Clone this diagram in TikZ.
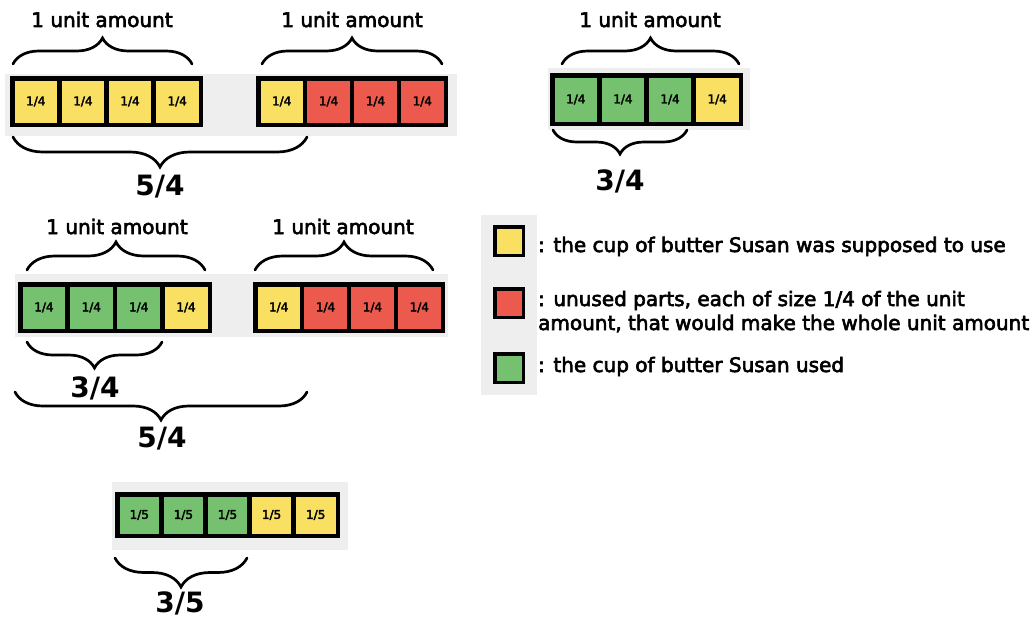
\documentclass[tikz,border=0pt]{standalone}
\usepackage{fontspec}
\setmainfont{DejaVu Sans}[UprightFeatures={FakeBold=3}]
\usetikzlibrary{decorations.pathreplacing}

\definecolor{butter}{HTML}{F9E062}
\definecolor{unused}{HTML}{EC5A4E}
\definecolor{used}{HTML}{75C16F}
\definecolor{bandgray}{HTML}{EEEEEE}

\tikzset{
  cell/.style={draw=black, line width=4.5pt, inner sep=0pt, outer sep=0pt,
               font=\fontsize{12}{12}\selectfont},
  bandbox/.style={fill=bandgray, draw=none},
  curly/.style={decorate, decoration={brace, amplitude=#1},
                line width=2.7pt, line cap=round},
  curlydown/.style={decorate, decoration={brace, mirror, amplitude=#1},
                line width=2.7pt, line cap=round},
  unitlabel/.style={font=\fontsize{20}{20}\selectfont, anchor=base, inner sep=0pt},
  fraclabel/.style={font=\bfseries\fontsize{28}{28}\selectfont, anchor=base, inner sep=0pt},
  keybox/.style={draw=black, line width=3.5pt, minimum size=28.5pt, inner sep=0pt},
  keytext/.style={font=\fontsize{20}{24}\selectfont, anchor=base west,
                  align=left, inner sep=0pt},
}

% \fracbar{name}{left}{right}{top}{bottom}{parts}{label}{colours}
\newcommand\fracbar[8]{%
  \pgfmathsetmacro\cw{(#3-#2-4.5)/#6}%
  \pgfmathsetmacro\ch{#5-#4-4.5}%
  \foreach \col [count=\i] in {#8} {
    \node[cell, fill=\col, minimum width=\cw pt, minimum height=\ch pt]
      (#1\i) at ({#2+2.25+(\i-0.5)*\cw}, {(#4+#5)/2}) {#7};
  }%
}

\begin{document}
\begin{tikzpicture}[x=1pt, y=-1pt]
\useasboundingbox (0,0) rectangle (1033,621);

% grey bands behind the bars and the key
\fill[bandgray] (5,74) rectangle (457,136);
\fill[bandgray] (548,68) rectangle (750,130);
\fill[bandgray] (15,274) rectangle (448,337);
\fill[bandgray] (112,482) rectangle (348,550);
\fill[bandgray] (481,215) rectangle (537,395);

% first row: 5/4 as two unit amounts
\fracbar{a}{10}{203}{76}{127}{4}{1/4}{butter,butter,butter,butter}
\fracbar{b}{256}{448}{76}{127}{4}{1/4}{butter,unused,unused,unused}

\coordinate (a-top-l) at (13,64);   \coordinate (a-top-r) at (192,64);
\coordinate (b-top-l) at (262,64);  \coordinate (b-top-r) at (442,64);
\coordinate (ab-bot-l) at (13,137); \coordinate (ab-bot-r) at (307,137);
\draw[curly=26] (a-top-l) -- (a-top-r);
\draw[curly=26] (b-top-l) -- (b-top-r);
\draw[curlydown=30] (ab-bot-l) -- (ab-bot-r);
\node[unitlabel] (a-unit) at (102,27) {1 unit amount};
\node[unitlabel] (b-unit) at (352,27) {1 unit amount};
\node[fraclabel] (ab-frac) at (160,195) {5/4};

% first row, right: 3/4 of one unit amount
\fracbar{c}{550}{743}{73}{126}{4}{1/4}{used,used,used,butter}
\coordinate (c-top-l) at (562,64);  \coordinate (c-top-r) at (739,64);
\coordinate (c-bot-l) at (553,130); \coordinate (c-bot-r) at (687,130);
\draw[curly=26] (c-top-l) -- (c-top-r);
\draw[curlydown=24] (c-bot-l) -- (c-bot-r);
\node[unitlabel] (c-unit) at (650,27) {1 unit amount};
\node[fraclabel] (c-frac) at (620,190) {3/4};

% second row
\fracbar{d}{18}{212}{282}{333}{4}{1/4}{used,used,used,butter}
\fracbar{e}{253}{445}{282}{333}{4}{1/4}{butter,unused,unused,unused}
\coordinate (d-top-l) at (27,270);  \coordinate (d-top-r) at (205,270);
\coordinate (e-top-l) at (255,270); \coordinate (e-top-r) at (433,270);
\coordinate (d-bot-l) at (27,342);  \coordinate (d-bot-r) at (162,342);
\coordinate (de-bot-l) at (15,392); \coordinate (de-bot-r) at (307,392);
\draw[curly=28] (d-top-l) -- (d-top-r);
\draw[curly=28] (e-top-l) -- (e-top-r);
\draw[curlydown=26] (d-bot-l) -- (d-bot-r);
\draw[curlydown=28] (de-bot-l) -- (de-bot-r);
\node[unitlabel] (d-unit) at (117,234) {1 unit amount};
\node[unitlabel] (e-unit) at (343,234) {1 unit amount};
\node[fraclabel] (d-frac) at (95,397) {3/4};
\node[fraclabel] (de-frac) at (162,447) {5/4};

% third row: fifths
\fracbar{f}{115}{340}{492}{538}{5}{1/5}{used,used,used,butter,butter}
\coordinate (f-bot-l) at (115,558); \coordinate (f-bot-r) at (247,558);
\draw[curlydown=29] (f-bot-l) -- (f-bot-r);
\node[fraclabel] (f-frac) at (180,612) {3/5};

% key
\node[keybox, fill=butter] (k1) at (509,241) {};
\node[keybox, fill=unused] (k2) at (509,303) {};
\node[keybox, fill=used]   (k3) at (509,368) {};
\node[keytext] (t1) at (538,252) {: the cup of butter Susan was supposed to use};
\node[keytext] (t2) at (538,330) {: unused parts, each of size 1/4 of the unit\\amount, that would make the whole unit amount};
\node[keytext] (t3) at (538,372) {: the cup of butter Susan used};
\end{tikzpicture}
\end{document}
